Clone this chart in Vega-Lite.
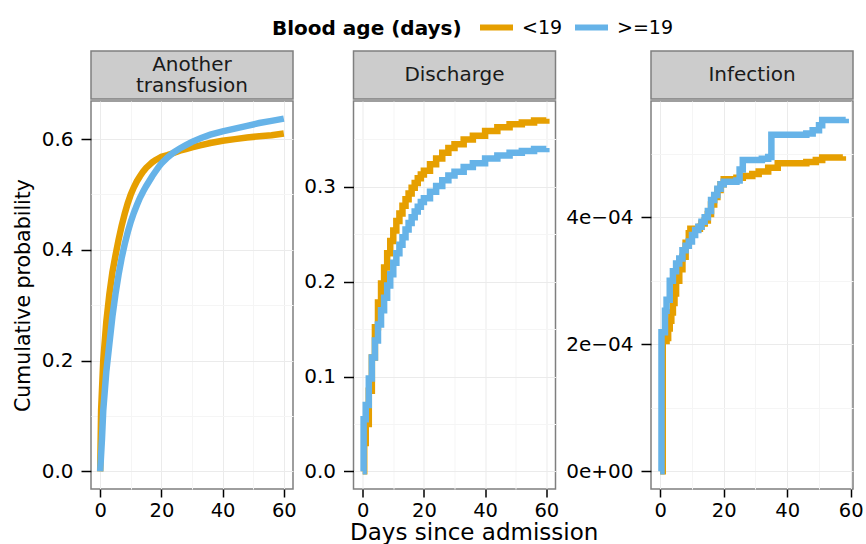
{
  "$schema": "https://vega.github.io/schema/vega-lite/v6.json",
  "padding": {"left": 12, "top": 8, "right": 0, "bottom": 0},
  "title": {"text": "Days since admission", "orient": "bottom", "anchor": "middle", "fontSize": 23, "fontWeight": "normal", "font": "DejaVu Sans", "color": "#000000", "offset": 1.5, "dx": 36},
  "datasets": {
    "curves": [
      {"panel": "Another transfusion", "group": "<19", "day": 0, "p": 0},
      {"panel": "Another transfusion", "group": "<19", "day": 0.3, "p": 0.11},
      {"panel": "Another transfusion", "group": "<19", "day": 1, "p": 0.2},
      {"panel": "Another transfusion", "group": "<19", "day": 2, "p": 0.27},
      {"panel": "Another transfusion", "group": "<19", "day": 3, "p": 0.32},
      {"panel": "Another transfusion", "group": "<19", "day": 4, "p": 0.36},
      {"panel": "Another transfusion", "group": "<19", "day": 5, "p": 0.39},
      {"panel": "Another transfusion", "group": "<19", "day": 6, "p": 0.418},
      {"panel": "Another transfusion", "group": "<19", "day": 7, "p": 0.443},
      {"panel": "Another transfusion", "group": "<19", "day": 8, "p": 0.465},
      {"panel": "Another transfusion", "group": "<19", "day": 9, "p": 0.484},
      {"panel": "Another transfusion", "group": "<19", "day": 10, "p": 0.5},
      {"panel": "Another transfusion", "group": "<19", "day": 11, "p": 0.513},
      {"panel": "Another transfusion", "group": "<19", "day": 12, "p": 0.524},
      {"panel": "Another transfusion", "group": "<19", "day": 13, "p": 0.533},
      {"panel": "Another transfusion", "group": "<19", "day": 14, "p": 0.541},
      {"panel": "Another transfusion", "group": "<19", "day": 15, "p": 0.548},
      {"panel": "Another transfusion", "group": "<19", "day": 16, "p": 0.553},
      {"panel": "Another transfusion", "group": "<19", "day": 17, "p": 0.558},
      {"panel": "Another transfusion", "group": "<19", "day": 18, "p": 0.562},
      {"panel": "Another transfusion", "group": "<19", "day": 19, "p": 0.565},
      {"panel": "Another transfusion", "group": "<19", "day": 20, "p": 0.568},
      {"panel": "Another transfusion", "group": "<19", "day": 22, "p": 0.571},
      {"panel": "Another transfusion", "group": "<19", "day": 24, "p": 0.575},
      {"panel": "Another transfusion", "group": "<19", "day": 26, "p": 0.579},
      {"panel": "Another transfusion", "group": "<19", "day": 28, "p": 0.582},
      {"panel": "Another transfusion", "group": "<19", "day": 30, "p": 0.585},
      {"panel": "Another transfusion", "group": "<19", "day": 33, "p": 0.589},
      {"panel": "Another transfusion", "group": "<19", "day": 36, "p": 0.593},
      {"panel": "Another transfusion", "group": "<19", "day": 40, "p": 0.597},
      {"panel": "Another transfusion", "group": "<19", "day": 44, "p": 0.6},
      {"panel": "Another transfusion", "group": "<19", "day": 48, "p": 0.603},
      {"panel": "Another transfusion", "group": "<19", "day": 52, "p": 0.605},
      {"panel": "Another transfusion", "group": "<19", "day": 56, "p": 0.607},
      {"panel": "Another transfusion", "group": "<19", "day": 60, "p": 0.61},
      {"panel": "Another transfusion", "group": ">=19", "day": 0, "p": 0},
      {"panel": "Another transfusion", "group": ">=19", "day": 0.6, "p": 0.06},
      {"panel": "Another transfusion", "group": ">=19", "day": 1, "p": 0.11},
      {"panel": "Another transfusion", "group": ">=19", "day": 2, "p": 0.18},
      {"panel": "Another transfusion", "group": ">=19", "day": 3, "p": 0.23},
      {"panel": "Another transfusion", "group": ">=19", "day": 4, "p": 0.28},
      {"panel": "Another transfusion", "group": ">=19", "day": 5, "p": 0.32},
      {"panel": "Another transfusion", "group": ">=19", "day": 6, "p": 0.355},
      {"panel": "Another transfusion", "group": ">=19", "day": 7, "p": 0.385},
      {"panel": "Another transfusion", "group": ">=19", "day": 8, "p": 0.41},
      {"panel": "Another transfusion", "group": ">=19", "day": 9, "p": 0.432},
      {"panel": "Another transfusion", "group": ">=19", "day": 10, "p": 0.451},
      {"panel": "Another transfusion", "group": ">=19", "day": 11, "p": 0.467},
      {"panel": "Another transfusion", "group": ">=19", "day": 12, "p": 0.481},
      {"panel": "Another transfusion", "group": ">=19", "day": 13, "p": 0.494},
      {"panel": "Another transfusion", "group": ">=19", "day": 14, "p": 0.505},
      {"panel": "Another transfusion", "group": ">=19", "day": 15, "p": 0.515},
      {"panel": "Another transfusion", "group": ">=19", "day": 16, "p": 0.524},
      {"panel": "Another transfusion", "group": ">=19", "day": 17, "p": 0.533},
      {"panel": "Another transfusion", "group": ">=19", "day": 18, "p": 0.541},
      {"panel": "Another transfusion", "group": ">=19", "day": 19, "p": 0.549},
      {"panel": "Another transfusion", "group": ">=19", "day": 20, "p": 0.556},
      {"panel": "Another transfusion", "group": ">=19", "day": 22, "p": 0.567},
      {"panel": "Another transfusion", "group": ">=19", "day": 24, "p": 0.576},
      {"panel": "Another transfusion", "group": ">=19", "day": 26, "p": 0.583},
      {"panel": "Another transfusion", "group": ">=19", "day": 28, "p": 0.589},
      {"panel": "Another transfusion", "group": ">=19", "day": 30, "p": 0.595},
      {"panel": "Another transfusion", "group": ">=19", "day": 33, "p": 0.602},
      {"panel": "Another transfusion", "group": ">=19", "day": 36, "p": 0.608},
      {"panel": "Another transfusion", "group": ">=19", "day": 40, "p": 0.614},
      {"panel": "Another transfusion", "group": ">=19", "day": 44, "p": 0.619},
      {"panel": "Another transfusion", "group": ">=19", "day": 48, "p": 0.624},
      {"panel": "Another transfusion", "group": ">=19", "day": 52, "p": 0.629},
      {"panel": "Another transfusion", "group": ">=19", "day": 56, "p": 0.633},
      {"panel": "Another transfusion", "group": ">=19", "day": 60, "p": 0.637},
      {"panel": "Discharge", "group": "<19", "day": 0, "p": 0},
      {"panel": "Discharge", "group": "<19", "day": 0.5, "p": 0.03},
      {"panel": "Discharge", "group": "<19", "day": 1, "p": 0.05},
      {"panel": "Discharge", "group": "<19", "day": 2, "p": 0.085},
      {"panel": "Discharge", "group": "<19", "day": 3, "p": 0.12},
      {"panel": "Discharge", "group": "<19", "day": 4, "p": 0.152},
      {"panel": "Discharge", "group": "<19", "day": 5, "p": 0.178},
      {"panel": "Discharge", "group": "<19", "day": 6, "p": 0.198},
      {"panel": "Discharge", "group": "<19", "day": 7, "p": 0.215},
      {"panel": "Discharge", "group": "<19", "day": 8, "p": 0.23},
      {"panel": "Discharge", "group": "<19", "day": 9, "p": 0.243},
      {"panel": "Discharge", "group": "<19", "day": 10, "p": 0.254},
      {"panel": "Discharge", "group": "<19", "day": 11, "p": 0.264},
      {"panel": "Discharge", "group": "<19", "day": 12, "p": 0.272},
      {"panel": "Discharge", "group": "<19", "day": 13, "p": 0.28},
      {"panel": "Discharge", "group": "<19", "day": 14, "p": 0.287},
      {"panel": "Discharge", "group": "<19", "day": 15, "p": 0.293},
      {"panel": "Discharge", "group": "<19", "day": 16, "p": 0.299},
      {"panel": "Discharge", "group": "<19", "day": 17, "p": 0.304},
      {"panel": "Discharge", "group": "<19", "day": 18, "p": 0.309},
      {"panel": "Discharge", "group": "<19", "day": 19, "p": 0.313},
      {"panel": "Discharge", "group": "<19", "day": 20, "p": 0.317},
      {"panel": "Discharge", "group": "<19", "day": 22, "p": 0.324},
      {"panel": "Discharge", "group": "<19", "day": 24, "p": 0.33},
      {"panel": "Discharge", "group": "<19", "day": 26, "p": 0.336},
      {"panel": "Discharge", "group": "<19", "day": 28, "p": 0.341},
      {"panel": "Discharge", "group": "<19", "day": 30, "p": 0.345},
      {"panel": "Discharge", "group": "<19", "day": 33, "p": 0.35},
      {"panel": "Discharge", "group": "<19", "day": 36, "p": 0.354},
      {"panel": "Discharge", "group": "<19", "day": 40, "p": 0.359},
      {"panel": "Discharge", "group": "<19", "day": 44, "p": 0.363},
      {"panel": "Discharge", "group": "<19", "day": 48, "p": 0.366},
      {"panel": "Discharge", "group": "<19", "day": 52, "p": 0.368},
      {"panel": "Discharge", "group": "<19", "day": 56, "p": 0.37},
      {"panel": "Discharge", "group": "<19", "day": 60, "p": 0.372},
      {"panel": "Discharge", "group": ">=19", "day": 0, "p": 0},
      {"panel": "Discharge", "group": ">=19", "day": 0.3, "p": 0.055},
      {"panel": "Discharge", "group": ">=19", "day": 1, "p": 0.07},
      {"panel": "Discharge", "group": ">=19", "day": 2, "p": 0.098},
      {"panel": "Discharge", "group": ">=19", "day": 3, "p": 0.12},
      {"panel": "Discharge", "group": ">=19", "day": 4, "p": 0.138},
      {"panel": "Discharge", "group": ">=19", "day": 5, "p": 0.155},
      {"panel": "Discharge", "group": ">=19", "day": 6, "p": 0.17},
      {"panel": "Discharge", "group": ">=19", "day": 7, "p": 0.183},
      {"panel": "Discharge", "group": ">=19", "day": 8, "p": 0.196},
      {"panel": "Discharge", "group": ">=19", "day": 9, "p": 0.208},
      {"panel": "Discharge", "group": ">=19", "day": 10, "p": 0.22},
      {"panel": "Discharge", "group": ">=19", "day": 11, "p": 0.23},
      {"panel": "Discharge", "group": ">=19", "day": 12, "p": 0.239},
      {"panel": "Discharge", "group": ">=19", "day": 13, "p": 0.247},
      {"panel": "Discharge", "group": ">=19", "day": 14, "p": 0.255},
      {"panel": "Discharge", "group": ">=19", "day": 15, "p": 0.262},
      {"panel": "Discharge", "group": ">=19", "day": 16, "p": 0.268},
      {"panel": "Discharge", "group": ">=19", "day": 17, "p": 0.274},
      {"panel": "Discharge", "group": ">=19", "day": 18, "p": 0.279},
      {"panel": "Discharge", "group": ">=19", "day": 19, "p": 0.284},
      {"panel": "Discharge", "group": ">=19", "day": 20, "p": 0.288},
      {"panel": "Discharge", "group": ">=19", "day": 22, "p": 0.295},
      {"panel": "Discharge", "group": ">=19", "day": 24, "p": 0.301},
      {"panel": "Discharge", "group": ">=19", "day": 26, "p": 0.307},
      {"panel": "Discharge", "group": ">=19", "day": 28, "p": 0.312},
      {"panel": "Discharge", "group": ">=19", "day": 30, "p": 0.316},
      {"panel": "Discharge", "group": ">=19", "day": 33, "p": 0.321},
      {"panel": "Discharge", "group": ">=19", "day": 36, "p": 0.325},
      {"panel": "Discharge", "group": ">=19", "day": 40, "p": 0.33},
      {"panel": "Discharge", "group": ">=19", "day": 44, "p": 0.333},
      {"panel": "Discharge", "group": ">=19", "day": 48, "p": 0.336},
      {"panel": "Discharge", "group": ">=19", "day": 52, "p": 0.338},
      {"panel": "Discharge", "group": ">=19", "day": 56, "p": 0.34},
      {"panel": "Discharge", "group": ">=19", "day": 60, "p": 0.341},
      {"panel": "Infection", "group": "<19", "day": 0, "p": 0},
      {"panel": "Infection", "group": "<19", "day": 0.8, "p": 0.000205},
      {"panel": "Infection", "group": "<19", "day": 2, "p": 0.00021},
      {"panel": "Infection", "group": "<19", "day": 2.5, "p": 0.000225},
      {"panel": "Infection", "group": "<19", "day": 3, "p": 0.000237},
      {"panel": "Infection", "group": "<19", "day": 3.5, "p": 0.00025},
      {"panel": "Infection", "group": "<19", "day": 4, "p": 0.000265},
      {"panel": "Infection", "group": "<19", "day": 4.5, "p": 0.00028},
      {"panel": "Infection", "group": "<19", "day": 5, "p": 0.0003},
      {"panel": "Infection", "group": "<19", "day": 6, "p": 0.000318},
      {"panel": "Infection", "group": "<19", "day": 7, "p": 0.000338},
      {"panel": "Infection", "group": "<19", "day": 8, "p": 0.00036},
      {"panel": "Infection", "group": "<19", "day": 9, "p": 0.000375},
      {"panel": "Infection", "group": "<19", "day": 9.5, "p": 0.000382},
      {"panel": "Infection", "group": "<19", "day": 12.5, "p": 0.000385},
      {"panel": "Infection", "group": "<19", "day": 13, "p": 0.00039},
      {"panel": "Infection", "group": "<19", "day": 14, "p": 0.000395},
      {"panel": "Infection", "group": "<19", "day": 15, "p": 0.000405},
      {"panel": "Infection", "group": "<19", "day": 16, "p": 0.00042},
      {"panel": "Infection", "group": "<19", "day": 17, "p": 0.000432},
      {"panel": "Infection", "group": "<19", "day": 18, "p": 0.000443},
      {"panel": "Infection", "group": "<19", "day": 19, "p": 0.000452},
      {"panel": "Infection", "group": "<19", "day": 20, "p": 0.00046},
      {"panel": "Infection", "group": "<19", "day": 24, "p": 0.000462},
      {"panel": "Infection", "group": "<19", "day": 26, "p": 0.000465},
      {"panel": "Infection", "group": "<19", "day": 29, "p": 0.000468},
      {"panel": "Infection", "group": "<19", "day": 31, "p": 0.000472},
      {"panel": "Infection", "group": "<19", "day": 34, "p": 0.000478},
      {"panel": "Infection", "group": "<19", "day": 37, "p": 0.000485},
      {"panel": "Infection", "group": "<19", "day": 46, "p": 0.000487},
      {"panel": "Infection", "group": "<19", "day": 49, "p": 0.00049},
      {"panel": "Infection", "group": "<19", "day": 51, "p": 0.000494},
      {"panel": "Infection", "group": "<19", "day": 57.5, "p": 0.000496},
      {"panel": "Infection", "group": ">=19", "day": 0, "p": 0},
      {"panel": "Infection", "group": ">=19", "day": 0.4, "p": 0.000219},
      {"panel": "Infection", "group": ">=19", "day": 1.5, "p": 0.000253},
      {"panel": "Infection", "group": ">=19", "day": 2, "p": 0.00027},
      {"panel": "Infection", "group": ">=19", "day": 3, "p": 0.0003},
      {"panel": "Infection", "group": ">=19", "day": 4, "p": 0.000315},
      {"panel": "Infection", "group": ">=19", "day": 5, "p": 0.000327},
      {"panel": "Infection", "group": ">=19", "day": 6, "p": 0.000335},
      {"panel": "Infection", "group": ">=19", "day": 7, "p": 0.000348},
      {"panel": "Infection", "group": ">=19", "day": 8, "p": 0.000355},
      {"panel": "Infection", "group": ">=19", "day": 9, "p": 0.000362},
      {"panel": "Infection", "group": ">=19", "day": 10, "p": 0.000372},
      {"panel": "Infection", "group": ">=19", "day": 11, "p": 0.00038},
      {"panel": "Infection", "group": ">=19", "day": 12, "p": 0.000385},
      {"panel": "Infection", "group": ">=19", "day": 13, "p": 0.000393},
      {"panel": "Infection", "group": ">=19", "day": 14, "p": 0.0004},
      {"panel": "Infection", "group": ">=19", "day": 15, "p": 0.00041},
      {"panel": "Infection", "group": ">=19", "day": 16, "p": 0.000427},
      {"panel": "Infection", "group": ">=19", "day": 17, "p": 0.000435},
      {"panel": "Infection", "group": ">=19", "day": 18, "p": 0.000445},
      {"panel": "Infection", "group": ">=19", "day": 19, "p": 0.000452},
      {"panel": "Infection", "group": ">=19", "day": 20, "p": 0.000456},
      {"panel": "Infection", "group": ">=19", "day": 24, "p": 0.000458},
      {"panel": "Infection", "group": ">=19", "day": 25, "p": 0.000475},
      {"panel": "Infection", "group": ">=19", "day": 26, "p": 0.00049},
      {"panel": "Infection", "group": ">=19", "day": 32, "p": 0.000492},
      {"panel": "Infection", "group": ">=19", "day": 34, "p": 0.000495},
      {"panel": "Infection", "group": ">=19", "day": 35, "p": 0.00053},
      {"panel": "Infection", "group": ">=19", "day": 46, "p": 0.000532},
      {"panel": "Infection", "group": ">=19", "day": 48, "p": 0.000537},
      {"panel": "Infection", "group": ">=19", "day": 50, "p": 0.000545},
      {"panel": "Infection", "group": ">=19", "day": 51, "p": 0.000553},
      {"panel": "Infection", "group": ">=19", "day": 58.4, "p": 0.000555}
    ]
  },
  "spacing": 5.5,
  "hconcat": [
    {
      "spacing": 0,
      "vconcat": [
        {
          "width": 202, "height": 48,
          "data": {"values": [{"label": "Another\ntransfusion"}]},
          "mark": {"type": "text", "fontSize": 20, "lineBreak": "\n", "lineHeight": 21, "dy": -10.5, "color": "#1A1A1A", "baseline": "middle", "font": "DejaVu Sans"},
          "encoding": {"text": {"field": "label"}},
          "view": {"fill": "#CCCCCC", "stroke": "#7F7F7F", "strokeWidth": 1.5}
        },
        {
          "width": 202, "height": 388,
          "data": {"name": "curves"},
          "transform": [{"filter": "datum.panel === 'Another transfusion'"}],
          "mark": {"type": "line", "interpolate": "linear", "strokeWidth": 6.5, "clip": true},
          "encoding": {
            "x": {"field": "day", "type": "quantitative", "scale": {"domain": [-3, 63], "nice": false, "zero": false},
              "axis": {"title": null, "values": [0, 10, 20, 30, 40, 50, 60], "labelExpr": "datum.value % 20 == 10 ? '' : datum.label",
                "gridColor": {"condition": {"test": "datum.value % 20 == 10", "value": "#F5F5F5"}, "value": "#EBEBEB"},
                "tickOpacity": {"condition": {"test": "datum.value % 20 == 10", "value": 0}, "value": 1}}},
            "y": {"field": "p", "type": "quantitative", "scale": {"domain": [-0.0318, 0.6688], "nice": false, "zero": false},
              "axis": {"title": "Cumulative probability", "titleFontSize": 20.5, "titlePadding": 8, "values": [0, 0.1, 0.2, 0.3, 0.4, 0.5, 0.6],
                "labelExpr": "round(datum.value*10) % 2 == 1 ? '' : format(datum.value, '.1f')",
                "gridColor": {"condition": {"test": "round(datum.value*10) % 2 == 1", "value": "#F5F5F5"}, "value": "#EBEBEB"},
                "tickOpacity": {"condition": {"test": "round(datum.value*10) % 2 == 1", "value": 0}, "value": 1}}},
            "color": {"field": "group", "type": "nominal", "scale": {"domain": ["<19", ">=19"], "range": ["#E69F00", "#66B3E8"]},
              "legend": {"title": "Blood age (days)", "orient": "none", "legendX": 181, "legendY": -43, "direction": "horizontal", "gridAlign": "none", "titleOrient": "left", "titleAnchor": "middle", "titleBaseline": "line-top", "titleLineHeight": 10, "titleLimit": 400}}
          }
        }
      ]
    },
    {
      "spacing": 0,
      "vconcat": [
        {
          "width": 202, "height": 48,
          "data": {"values": [{"label": "Discharge"}]},
          "mark": {"type": "text", "fontSize": 20, "color": "#1A1A1A", "baseline": "middle", "font": "DejaVu Sans"},
          "encoding": {"text": {"field": "label"}},
          "view": {"fill": "#CCCCCC", "stroke": "#7F7F7F", "strokeWidth": 1.5}
        },
        {
          "width": 202, "height": 388,
          "data": {"name": "curves"},
          "transform": [{"filter": "datum.panel === 'Discharge'"}],
          "mark": {"type": "line", "interpolate": "step-after", "strokeWidth": 6.5, "clip": true},
          "encoding": {
            "x": {"field": "day", "type": "quantitative", "scale": {"domain": [-3, 63], "nice": false, "zero": false},
              "axis": {"title": null, "values": [0, 10, 20, 30, 40, 50, 60], "labelExpr": "datum.value % 20 == 10 ? '' : datum.label",
                "gridColor": {"condition": {"test": "datum.value % 20 == 10", "value": "#F5F5F5"}, "value": "#EBEBEB"},
                "tickOpacity": {"condition": {"test": "datum.value % 20 == 10", "value": 0}, "value": 1}}},
            "y": {"field": "p", "type": "quantitative", "scale": {"domain": [-0.0186, 0.3906], "nice": false, "zero": false},
              "axis": {"title": null, "values": [0, 0.05, 0.1, 0.15, 0.2, 0.25, 0.3, 0.35],
                "labelExpr": "round(datum.value*100) % 10 == 5 ? '' : format(datum.value, '.1f')",
                "gridColor": {"condition": {"test": "round(datum.value*100) % 10 == 5", "value": "#F5F5F5"}, "value": "#EBEBEB"},
                "tickOpacity": {"condition": {"test": "round(datum.value*100) % 10 == 5", "value": 0}, "value": 1}}},
            "color": {"field": "group", "type": "nominal", "scale": {"domain": ["<19", ">=19"], "range": ["#E69F00", "#66B3E8"]}}
          }
        }
      ]
    },
    {
      "spacing": 0,
      "vconcat": [
        {
          "width": 202, "height": 48,
          "data": {"values": [{"label": "Infection"}]},
          "mark": {"type": "text", "fontSize": 20, "color": "#1A1A1A", "baseline": "middle", "font": "DejaVu Sans"},
          "encoding": {"text": {"field": "label"}},
          "view": {"fill": "#CCCCCC", "stroke": "#7F7F7F", "strokeWidth": 1.5}
        },
        {
          "width": 202, "height": 388,
          "data": {"name": "curves"},
          "transform": [{"filter": "datum.panel === 'Infection'"}],
          "mark": {"type": "line", "interpolate": "step-after", "strokeWidth": 6.5, "clip": true},
          "encoding": {
            "x": {"field": "day", "type": "quantitative", "scale": {"domain": [-2.9, 60.7], "nice": false, "zero": false},
              "axis": {"title": null, "values": [0, 10, 20, 30, 40, 50, 60], "labelExpr": "datum.value % 20 == 10 ? '' : datum.label",
                "gridColor": {"condition": {"test": "datum.value % 20 == 10", "value": "#F5F5F5"}, "value": "#EBEBEB"},
                "tickOpacity": {"condition": {"test": "datum.value % 20 == 10", "value": 0}, "value": 1}}},
            "y": {"field": "p", "type": "quantitative", "scale": {"domain": [-0.0000278, 0.000583], "nice": false, "zero": false},
              "axis": {"title": null, "values": [0, 0.0001, 0.0002, 0.0003, 0.0004, 0.0005],
                "labelExpr": "round(datum.value*10000) % 2 == 1 ? '' : (datum.value == 0 ? '0e+00' : round(datum.value*10000) + 'e\u221204')",
                "gridColor": {"condition": {"test": "round(datum.value*10000) % 2 == 1", "value": "#F5F5F5"}, "value": "#EBEBEB"},
                "tickOpacity": {"condition": {"test": "round(datum.value*10000) % 2 == 1", "value": 0}, "value": 1}}},
            "color": {"field": "group", "type": "nominal", "scale": {"domain": ["<19", ">=19"], "range": ["#E69F00", "#66B3E8"]}}
          }
        }
      ]
    }
  ],
  "config": {
    "font": "DejaVu Sans",
    "view": {"stroke": "#7F7F7F", "strokeWidth": 1.5},
    "axis": {"domain": false, "tickColor": "#000000", "tickWidth": 1.5, "labelColor": "#000000", "labelFontSize": 20, "labelFont": "DejaVu Sans", "gridWidth": 1, "titleFontWeight": "normal", "titleColor": "#000000", "titleFont": "DejaVu Sans"},
    "axisX": {"tickSize": 8, "labelPadding": 4, "labelFontSize": 19.5},
    "axisY": {"tickSize": 10, "labelPadding": 8},
    "legend": {"symbolType": "stroke", "symbolSize": 1089, "symbolStrokeWidth": 6, "labelFontSize": 19, "labelFont": "DejaVu Sans", "labelColor": "#000000", "titleFontSize": 20, "titleFontWeight": "bold", "titleFont": "DejaVu Sans", "titleColor": "#000000", "labelOffset": 6, "columnPadding": 0, "titlePadding": 15}
  }
}
